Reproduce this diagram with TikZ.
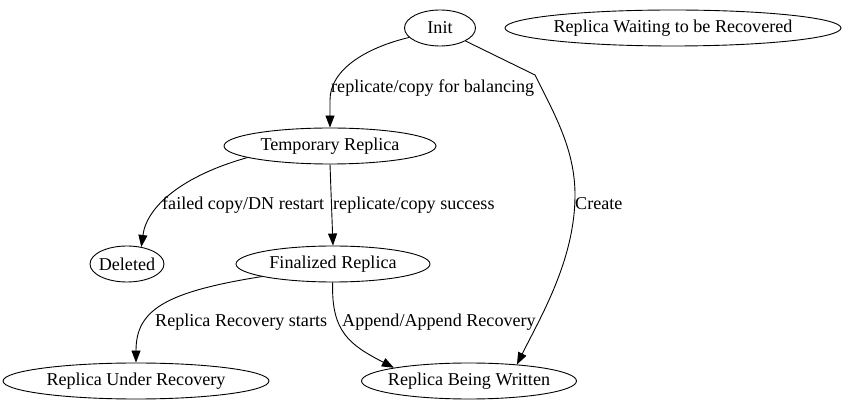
\documentclass[tikz,border=0pt]{standalone}
\usepackage{fontspec}
\setmainfont{Liberation Serif}
\usetikzlibrary{shapes.geometric,arrows.meta}
\begin{document}
\begin{tikzpicture}[x=1pt,y=-1pt,
  st/.style={draw,ellipse,line width=0.9pt,inner sep=0pt,minimum height=36pt,
    label={[font=\fontsize{18.1}{22}\selectfont,inner sep=0pt]center:#1}},
  lbl/.style={anchor=west,inner sep=0pt,font=\fontsize{18.1}{22}\selectfont},
  edge/.style={draw,line width=0.9pt,-{Triangle[length=12pt,width=9pt]}}]
\useasboundingbox (0,0) rectangle (849,411);
\node[st=Init,minimum width=71pt] (init) at (440,28) {};
\node[st=Replica Waiting to be Recovered,minimum width=336pt] (wait) at (673,28) {};
\node[st=Temporary Replica,minimum width=212pt] (temp) at (330,146) {};
\node[st=Deleted,minimum width=74pt] (del) at (127,264) {};
\node[st=Finalized Replica,minimum width=194pt] (fin) at (333,264) {};
\node[st=Replica Under Recovery,minimum width=266pt] (under) at (136,381) {};
\node[st=Replica Being Written,minimum width=215pt] (being) at (469,381) {};
\coordinate (c1) at (535,75);
\draw[edge] (init.197) .. controls (365,48) and (330,70) .. (330,100) -- (temp.north);
\draw[edge] (init.-27) -- (c1) .. controls (555,115) and (575,150) .. (575,195) .. controls (575,260) and (540,318) .. (being.19);
\draw[edge] (temp.188) .. controls (185,175) and (147,205) .. (del.50);
\draw[edge] (temp.south) -- (fin.north);
\draw[edge] (fin.190) .. controls (165,292) and (136,310) .. (under.north);
\draw[edge] (fin.-91) .. controls (331,332) and (350,345) .. (being.170);
\node[lbl] (l1) at (331,88) {replicate/copy for balancing};
\node[lbl] (l2) at (575,204) {Create};
\node[lbl] (l3) at (162,205) {failed copy/DN restart};
\node[lbl] (l4) at (333,205) {replicate/copy success};
\node[lbl] (l5) at (155,322) {Replica Recovery starts};
\node[lbl] (l6) at (342,322) {Append/Append Recovery};
\end{tikzpicture}
\end{document}
